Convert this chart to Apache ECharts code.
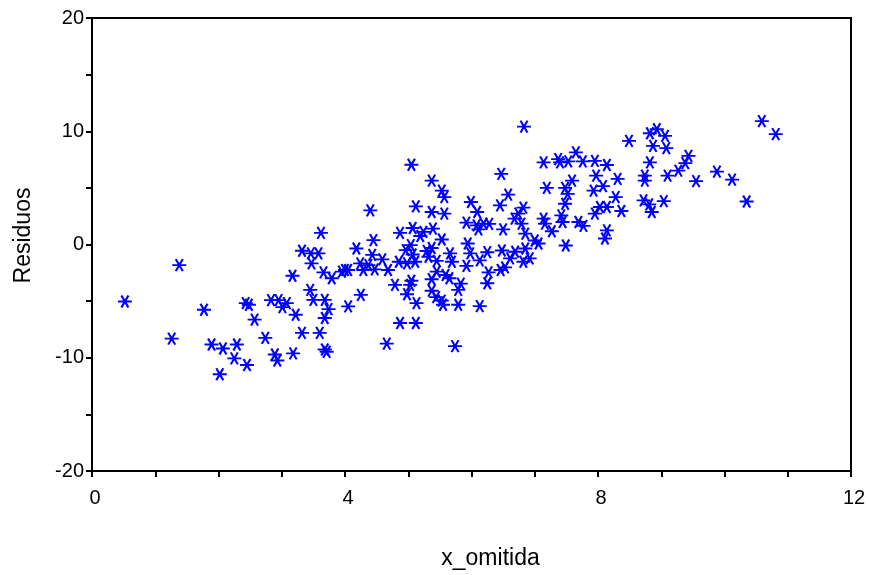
<!DOCTYPE html>
<html>
<head>
<meta charset="utf-8">
<script src="https://cdn.jsdelivr.net/npm/echarts@6/dist/echarts.min.js"></script>
<style>
html, body { margin: 0; padding: 0; background: #fff; }
#main { width: 869px; height: 575px; }
</style>
</head>
<body>
<div id="main"></div>
<script>
// valores
var xOmitida = [
    0.52, 1.38, 1.77, 1.26, 2.43, 2.48, 2.57, 2.74, 2.83, 2.95, 3.08, 3.01, 1.89, 2.07, 2.29, 2.25, 2.45, 2.02, 2.89, 2.93,
    3.17, 3.22, 3.18, 3.32, 3.46, 3.58, 3.47, 3.66, 3.79, 3.95, 4.00, 4.05, 4.18, 4.24, 4.29, 4.37, 3.45, 3.50, 3.68, 3.74,
    3.68, 4.05, 4.25, 3.32, 3.60, 3.68, 3.71, 3.62, 4.40, 4.45, 4.43, 4.47, 4.59, 4.68, 4.85, 4.96, 5.04, 5.07, 4.98, 5.11,
    5.29, 5.37, 5.32, 5.45, 5.53, 5.66, 5.69, 5.94, 5.98, 5.92, 6.13, 6.25, 6.27, 4.79, 4.98, 5.05, 5.03, 5.13, 5.37, 5.37,
    5.44, 5.53, 5.55, 5.59, 5.65, 5.83, 5.79, 5.79, 6.13, 6.25, 5.45, 4.66, 4.87, 5.12, 5.74, 4.87, 5.07, 5.24, 5.39, 5.19,
    5.05, 5.37, 5.53, 5.57, 5.12, 5.37, 5.57, 5.99, 6.09, 5.92, 6.08, 6.19, 6.11, 6.28, 6.83, 8.49, 8.82, 8.93, 9.06, 8.87,
    9.08, 8.82, 8.74, 8.74, 9.10, 9.27, 7.14, 7.37, 7.40, 7.53, 7.65, 7.76, 7.95, 8.14, 6.47, 7.97, 8.31, 7.59, 7.19, 7.48,
    7.52, 8.08, 7.93, 6.58, 6.45, 7.48, 8.28, 8.03, 8.14, 8.37, 7.95, 8.72, 8.81, 8.85, 9.04, 6.82, 6.74, 6.68, 6.50, 6.79,
    6.85, 7.14, 7.16, 7.42, 7.44, 7.27, 7.00, 7.69, 7.77, 8.14, 8.11, 7.49, 6.48, 6.69, 6.61, 6.85, 6.82, 6.92, 7.06, 6.46,
    6.53, 9.38, 9.43, 9.55, 9.88, 10.12, 10.35, 10.59, 10.81
];
var residuos = [
    -5.03, -1.82, -5.76, -8.31, -5.18, -5.32, -6.64, -8.25, -4.91, -4.91, -5.18, -5.53, -8.83, -9.18, -8.83, -10.06, -10.64, -11.46, -9.71, -10.24,
    -2.76, -6.20, -9.61, -0.55, -0.79, -0.79, -1.67, -2.46, -2.98, -2.39, -2.25, -2.25, -0.35, -1.67, -2.25, -1.82, -4.01, -4.89, -4.89, -5.70,
    -6.49, -5.46, -4.45, -7.81, -7.81, -9.27, -9.47, 1.03, 3.01, 0.38, -0.92, -2.19, -1.32, -2.25, -1.52, -0.50, -0.06, -0.88, -1.67, -1.52,
    -0.57, -0.31, -1.08, -1.45, 0.44, -0.79, -1.52, 0.09, -0.79, -1.89, -1.40, -0.68, -2.46, -3.57, -4.39, -3.20, -3.57, -5.18, -3.07, -4.08,
    -4.65, -4.96, -5.32, -2.69, -2.98, -3.46, -4.01, -5.32, -5.44, -3.42, -2.39, -8.75, -6.93, -6.93, -8.97, 1.03, 1.46, 1.11, 1.40, 0.75,
    7.04, 5.64, 4.76, 4.18, 3.36, 2.87, 2.72, 3.75, 2.87, 1.93, 1.69, 1.84, 1.34, 1.82, 10.41, 9.15, 9.82, 10.18, 9.59, 8.71,
    8.51, 7.25, 6.08, 5.64, 6.08, 6.52, 7.25, 7.54, 7.25, 7.34, 8.13, 7.34, 7.39, 7.02, 6.23, 6.08, 5.79, 5.64, 5.00, 5.00,
    4.47, 5.15, 4.76, 4.41, 3.45, 3.60, 4.18, 3.31, 3.31, 2.96, 2.72, 3.89, 3.54, 2.87, 3.83, 3.25, 2.72, 2.28, 1.34, 1.84,
    0.96, 2.28, 1.84, 2.57, 1.99, 1.17, 0.35, 1.99, 1.64, 1.25, 0.53, -0.09, -0.53, -0.64, -1.23, -0.35, -1.52, -1.23, 0.09, -2.25,
    -2.02, 7.19, 7.83, 5.59, 6.43, 5.73, 3.80, 10.90, 9.74
];
var xTickLabels = [0, 4, 8, 12];
var yTickLabels = [-20, -10, 0, 10, 20];

var points = xOmitida.map(function (x, i) { return [x, residuos[i]]; });

var asterisco = 'path://M0 6 L14 6 M3.5 0 L10.5 12 M10.5 0 L3.5 12';

var myChart = echarts.init(document.getElementById('main'));
var option = {
    animation: false,
    backgroundColor: '#fff',
    grid: {
        left: 92,
        right: 18,
        top: 18,
        bottom: 101,
        show: true,
        borderColor: '#000',
        borderWidth: 2,
        backgroundColor: 'transparent'
    },
    xAxis: {
        type: 'value',
        min: 0,
        max: 12,
        interval: 1,
        name: 'x_omitida',
        nameLocation: 'middle',
        nameGap: 76,
        nameTextStyle: {
            color: '#000',
            fontFamily: 'Liberation Sans',
            fontSize: 23,
            padding: [0, 0, 0, 38]
        },
        axisLine: { show: true, onZero: false, lineStyle: { color: '#000', width: 2 } },
        axisTick: { show: true, inside: false, length: 6, lineStyle: { color: '#000', width: 2 } },
        axisLabel: {
            color: '#000',
            fontFamily: 'Liberation Sans',
            fontSize: 20,
            margin: 17,
            padding: [0, 0, 0, 6],
            formatter: function (v) {
                return xTickLabels.indexOf(v) >= 0 ? String(v) : '';
            }
        },
        splitLine: { show: false }
    },
    yAxis: {
        type: 'value',
        min: -20,
        max: 20,
        interval: 5,
        name: 'Residuos',
        nameLocation: 'middle',
        nameGap: 57,
        nameRotate: 90,
        nameTextStyle: {
            color: '#000',
            fontFamily: 'Liberation Sans',
            fontSize: 23,
            padding: [0, 0, 0, 18]
        },
        axisLine: { show: true, onZero: false, lineStyle: { color: '#000', width: 2 } },
        axisTick: { show: true, inside: false, length: 6, lineStyle: { color: '#000', width: 2 } },
        axisLabel: {
            color: '#000',
            fontFamily: 'Liberation Sans',
            fontSize: 20,
            margin: 8,
            formatter: function (v) {
                return yTickLabels.indexOf(v) >= 0 ? String(v) : '';
            }
        },
        splitLine: { show: false }
    },
    series: [
        {
            type: 'scatter',
            symbol: asterisco,
            symbolSize: [14, 12],
            itemStyle: {
                color: 'none',
                borderColor: '#0000ff',
                borderWidth: 2,
                opacity: 1
            },
            data: points
        }
    ]
};
myChart.setOption(option);
</script>
</body>
</html>
